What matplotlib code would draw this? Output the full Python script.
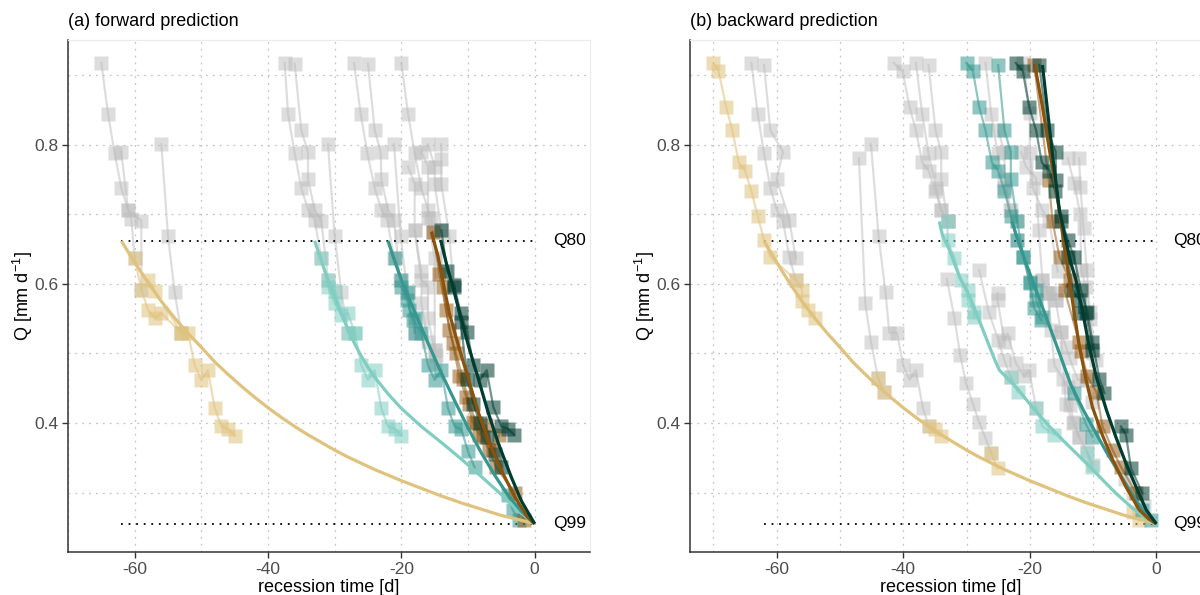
import matplotlib
matplotlib.use("Agg")
import matplotlib.pyplot as plt

plt.rcParams['font.family'] = ['Liberation Sans', 'DejaVu Sans']
plt.rcParams['axes.unicode_minus'] = False
plt.rcParams['mathtext.fontset'] = 'custom'
plt.rcParams['mathtext.rm'] = 'Liberation Sans'
plt.rcParams['mathtext.default'] = 'regular'

# ---------------- thresholds ----------------
Q80 = 0.662
Q99 = 0.255
THRESH_START = -62

# ---------------- fitted curves ----------------
TAN_FIT_X = [-62, -60, -58, -56, -54, -52, -50, -48, -46, -44, -42, -40, -38, -36, -34, -32, -30, -28, -26, -24, -22, -20, -17, -14, -11, -8, -5, -2, 0]
TAN_FIT_Y = [0.662, 0.631, 0.602, 0.575, 0.551, 0.529, 0.509, 0.488, 0.470, 0.453, 0.437, 0.422, 0.408, 0.395, 0.383, 0.372, 0.361, 0.351, 0.342, 0.333, 0.325, 0.317, 0.306, 0.295, 0.285, 0.276, 0.267, 0.260, 0.255]

A_LT_FIT_X = [-33, -32, -31, -30, -29, -28, -27, -26, -25, -24, -22, -20, -17, -14, -11, -8, -5, -2.5, 0]
A_LT_FIT_Y = [0.662, 0.633, 0.606, 0.581, 0.557, 0.535, 0.514, 0.496, 0.480, 0.466, 0.442, 0.421, 0.395, 0.372, 0.348, 0.323, 0.297, 0.274, 0.255]
A_TEAL_FIT_X = [-22, -21, -20, -19, -18, -16, -14, -12, -10, -8, -6, -4, -2, 0]
A_TEAL_FIT_Y = [0.662, 0.633, 0.606, 0.582, 0.560, 0.515, 0.472, 0.432, 0.393, 0.357, 0.325, 0.296, 0.273, 0.255]
A_BROWN_FIT_X = [-15.5, -14.5, -13.8, -12.8, -11.4, -9.9, -8.4, -7, -5, -3, -1.1, 0]
A_BROWN_FIT_Y = [0.675, 0.640, 0.606, 0.558, 0.510, 0.462, 0.414, 0.376, 0.332, 0.294, 0.265, 0.255]
A_DARK_FIT_X = [-14.1, -13.2, -12.3, -11.3, -9.9, -8.4, -7, -5.5, -3.5, -2, 0]
A_DARK_FIT_Y = [0.663, 0.628, 0.597, 0.560, 0.510, 0.462, 0.416, 0.372, 0.322, 0.288, 0.255]

B_LT_FIT_X = [-34.3, -33.8, -32.7, -31.1, -29.5, -27.4, -25.5, -24.8, -22.2, -19.6, -16.9, -14.3, -11.6, -9, -6.4, -3.7, -1.5, 0]
B_LT_FIT_Y = [0.690, 0.670, 0.649, 0.610, 0.582, 0.534, 0.490, 0.476, 0.452, 0.423, 0.395, 0.371, 0.347, 0.323, 0.299, 0.277, 0.262, 0.255]
B_TEAL_FIT_X = [-22.8, -22.2, -20.6, -19, -17.4, -15.3, -13.5, -11.5, -10, -8, -6, -4, -2, 0]
B_TEAL_FIT_Y = [0.690, 0.672, 0.630, 0.591, 0.552, 0.500, 0.455, 0.418, 0.393, 0.360, 0.330, 0.300, 0.272, 0.255]
B_BROWN_FIT_X = [-19.2, -18, -16.9, -15.8, -15.1, -14.4, -13.7, -13, -12.2, -11.1, -10.1, -8.5, -6.9, -4.8, -2.7, -1.2, 0]
B_BROWN_FIT_Y = [0.915, 0.855, 0.793, 0.735, 0.690, 0.645, 0.603, 0.560, 0.512, 0.462, 0.423, 0.382, 0.347, 0.308, 0.275, 0.262, 0.255]
B_DARK_FIT_X = [-18, -17.2, -16.2, -15.3, -14.3, -13.5, -12.7, -11.6, -10.6, -9.5, -7.9, -6.4, -4.8, -3.2, -1.6, 0]
B_DARK_FIT_Y = [0.915, 0.850, 0.770, 0.705, 0.663, 0.630, 0.606, 0.558, 0.510, 0.467, 0.419, 0.380, 0.342, 0.308, 0.275, 0.255]

# ---------------- observed recessions, panel (a) ----------------
A_GRAY_X = [
    [-65, -64, -63, -62, -61, -60.5, -60],
    [-62, -61, -59, -59],
    [-56, -55, -54, -53],
    [-37.5, -37, -36, -35, -34, -33, -32],
    [-36, -35, -34, -34, -33, -32, -31],
    [-31, -30, -29, -28],
    [-27.1, -26.1, -25.1, -24, -23, -22.1, -21.1],
    [-25, -24, -23.1, -23, -22, -21.1, -20.2],
    [-21.1, -20.1, -19.1, -18],
    [-20, -19, -18, -17, -16, -15.5, -15.3],
    [-19, -18, -18, -17, -17, -16, -15],
    [-17, -16, -16, -15, -15, -14.8],
    [-16, -15, -15, -14, -14],
    [-14, -14, -14, -12.8, -12.2],
    [-18, -17, -16, -16, -15],
]
A_GRAY_Y = [
    [0.918, 0.845, 0.788, 0.738, 0.707, 0.693, 0.637],
    [0.790, 0.707, 0.691, 0.592],
    [0.801, 0.669, 0.588, 0.530],
    [0.918, 0.845, 0.788, 0.738, 0.707, 0.692, 0.637],
    [0.917, 0.821, 0.790, 0.751, 0.707, 0.691, 0.606],
    [0.801, 0.669, 0.588, 0.530],
    [0.918, 0.845, 0.788, 0.738, 0.707, 0.692, 0.637],
    [0.917, 0.821, 0.790, 0.751, 0.707, 0.692, 0.606],
    [0.801, 0.669, 0.587, 0.530],
    [0.918, 0.845, 0.788, 0.738, 0.707, 0.695, 0.675],
    [0.769, 0.744, 0.677, 0.618, 0.572, 0.517, 0.486],
    [0.790, 0.769, 0.695, 0.637, 0.505, 0.498],
    [0.801, 0.769, 0.744, 0.677, 0.618],
    [0.801, 0.780, 0.744, 0.669, 0.600],
    [0.677, 0.606, 0.596, 0.551, 0.505],
]
A_TAN_X = [[-60, -59, -58, -57, -56, -53],
           [-58, -57, -53, -52, -51, -50, -49, -48, -47, -46, -45]]
A_TAN_Y = [[0.637, 0.592, 0.563, 0.551, 0.558, 0.530],
           [0.606, 0.590, 0.530, 0.530, 0.483, 0.462, 0.476, 0.422, 0.395, 0.392, 0.382]]
A_LT_X = [[-32, -31, -30, -29, -28, -27],
          [-31, -30, -28, -27, -26, -25, -24, -23, -22, -21, -20]]
A_LT_Y = [[0.637, 0.596, 0.572, 0.555, 0.558, 0.530],
          [0.606, 0.590, 0.530, 0.530, 0.483, 0.462, 0.476, 0.421, 0.395, 0.392, 0.382]]
A_TEAL_X = [[-21, -20, -19, -18.8, -18, -18],
            [-20, -19.2, -18.2, -17, -16, -15, -14, -13, -12, -11, -10, -9],
            [-4, -3.3, -2.3]]
A_TEAL_Y = [[0.637, 0.606, 0.589, 0.563, 0.551, 0.530],
            [0.596, 0.577, 0.548, 0.530, 0.483, 0.462, 0.476, 0.421, 0.395, 0.391, 0.359, 0.336],
            [0.296, 0.275, 0.260]]
A_BROWN_X = [[-15.3, -14.3, -13.3, -12.3, -11.3, -10.3, -9.3, -8.3, -7.3, -6.3, -5.3],
             [-13.8, -12.8, -11.8, -10.8, -9.8, -8.8, -7.8, -6.8, -5.8, -3, -1.6]]
A_BROWN_Y = [[0.675, 0.615, 0.563, 0.515, 0.467, 0.438, 0.402, 0.383, 0.397, 0.361, 0.383],
             [0.596, 0.534, 0.500, 0.464, 0.428, 0.400, 0.380, 0.361, 0.337, 0.299, 0.260]]
A_DARK_X = [[-14, -13.1, -12.1, -11.1, -10.1, -9.2, -8.2, -7.2, -6.2, -5, -4, -3.1],
            [-12.1, -11.1, -10.1, -9.2, -8.2, -7.2, -6, -5]]
A_DARK_Y = [[0.677, 0.618, 0.599, 0.558, 0.531, 0.483, 0.462, 0.476, 0.423, 0.395, 0.392, 0.383],
            [0.596, 0.545, 0.464, 0.428, 0.400, 0.380, 0.356, 0.337]]

# ---------------- observed recessions, panel (b) ----------------
B_GRAY_X = [
    [-64, -63, -62, -61, -60, -59, -58, -57],
    [-62, -61, -59, -60, -58, -57],
    [-47, -46, -45.1, -44, -43],
    [-45.1, -43.9, -42.8, -42.2, -41, -40, -39, -38, -36.9, -36],
    [-41.5, -40.1, -39, -38, -37, -36, -34.9, -34, -33],
    [-38, -37, -36, -34.8, -34, -33],
    [-36, -34.9, -34, -34, -33],
    [-33.1, -31.9, -31, -30.1, -29, -28, -27, -26.1],
    [-27, -26.1, -25.1, -24, -23.1, -22],
    [-25, -24, -24, -23, -22],
    [-21, -20, -20, -19.5, -18, -16.9, -15.6],
    [-21.4, -20.6, -19, -18.6, -18, -17.2, -15.9],
    [-14, -13, -12, -11.9, -11.1, -10.5, -10],
    [-12.2, -12, -11.5, -11, -10.5, -9.5],
    [-25.1, -25.1, -24, -23.5, -22.2, -20.9, -20.1, -19],
    [-28, -26.5, -25, -24, -23],
    [-18, -17, -16.7, -15.1, -14.3, -13.7, -12.4, -11.1, -10.1],
    [-17.2, -16.1, -14.8, -14, -13.7, -13, -12.2],
    [-15.9, -15.9, -15.1, -14.3, -13.2, -12.2, -11, -10],
    [-5, -3.7, -2],
]
B_GRAY_Y = [
    [0.918, 0.845, 0.788, 0.738, 0.707, 0.690, 0.639, 0.606],
    [0.915, 0.821, 0.790, 0.751, 0.692, 0.637],
    [0.781, 0.572, 0.517, 0.465, 0.444],
    [0.801, 0.669, 0.588, 0.530, 0.530, 0.483, 0.462, 0.476, 0.422, 0.395],
    [0.918, 0.906, 0.855, 0.821, 0.775, 0.763, 0.734, 0.706, 0.690],
    [0.918, 0.845, 0.788, 0.738, 0.706, 0.690],
    [0.915, 0.821, 0.790, 0.751, 0.690],
    [0.607, 0.551, 0.498, 0.458, 0.428, 0.401, 0.378, 0.357],
    [0.918, 0.845, 0.788, 0.738, 0.706, 0.690],
    [0.821, 0.790, 0.750, 0.706, 0.663],
    [0.918, 0.846, 0.788, 0.738, 0.706, 0.690, 0.618],
    [0.790, 0.769, 0.752, 0.678, 0.606, 0.587, 0.577],
    [0.781, 0.745, 0.700, 0.620, 0.596, 0.550, 0.500],
    [0.781, 0.740, 0.680, 0.620, 0.560, 0.490],
    [0.587, 0.577, 0.517, 0.529, 0.486, 0.467, 0.476, 0.421],
    [0.620, 0.560, 0.520, 0.490, 0.466],
    [0.606, 0.587, 0.534, 0.531, 0.510, 0.493, 0.462, 0.462, 0.430],
    [0.587, 0.483, 0.464, 0.452, 0.426, 0.402, 0.380],
    [0.587, 0.577, 0.531, 0.428, 0.400, 0.380, 0.360, 0.340],
    [0.320, 0.299, 0.280],
]
B_TAN_X = [[-70, -69.2, -68, -67, -66, -65, -64, -63, -62, -61, -57, -56, -56, -55, -54],
           [-44, -43], [-36, -35, -34], [-26.1, -25.1], [-3.7, -2.7]]
B_TAN_Y = [[0.918, 0.907, 0.855, 0.821, 0.775, 0.763, 0.734, 0.698, 0.663, 0.639, 0.606, 0.592, 0.576, 0.563, 0.551],
           [0.465, 0.444], [0.395, 0.391, 0.382], [0.357, 0.335], [0.272, 0.260]]
B_LT_X = [[-33, -33, -31.9, -30.9, -29.8, -29.8, -28.8, -28.8],
          [-23, -21.9], [-19, -18, -16.1], [-10.9, -10.1]]
B_LT_Y = [[0.690, 0.663, 0.637, 0.606, 0.591, 0.577, 0.560, 0.552],
          [0.466, 0.444], [0.421, 0.395, 0.383], [0.357, 0.336]]
B_TEAL_X = [[-30, -29, -28, -27, -26, -25, -24, -23, -22, -21, -20, -19, -19, -18],
            [-25, -24, -23, -23, -22, -21, -20, -19.3, -18.2],
            [-13, -11.1, -10.1],
            [-2.2, -0.9]]
B_TEAL_Y = [[0.918, 0.907, 0.855, 0.821, 0.775, 0.763, 0.734, 0.698, 0.663, 0.639, 0.603, 0.591, 0.577, 0.553],
            [0.915, 0.821, 0.790, 0.751, 0.690, 0.639, 0.601, 0.565, 0.548],
            [0.443, 0.398, 0.380],
            [0.275, 0.260]]
B_BROWN_X = [[-19.3, -17, -16.4, -15.3, -13.7, -14.5, -12.2, -11.9, -10.9, -9.5, -8.5, -6.9, -5.6, -3.2]]
B_BROWN_Y = [[0.915, 0.750, 0.690, 0.639, 0.606, 0.591, 0.517, 0.503, 0.467, 0.445, 0.395, 0.361, 0.337, 0.299]]
B_DARK_X = [[-22.2, -21.1, -20.1, -19, -18.1, -16.9, -16, -15.1, -14, -13, -11.9, -10.9, -10.1, -9, -8.2],
            [-18.5, -17.2, -15.9, -15.9, -15.1, -14, -13.2, -12.2, -12.2, -11.1, -10.1],
            [-5.6, -4.8, -4, -2.2]]
B_DARK_Y = [[0.918, 0.906, 0.855, 0.821, 0.775, 0.763, 0.734, 0.698, 0.663, 0.639, 0.591, 0.560, 0.517, 0.464, 0.443],
            [0.915, 0.821, 0.790, 0.750, 0.690, 0.639, 0.591, 0.577, 0.558, 0.558, 0.505],
            [0.395, 0.383, 0.335, 0.299]]

# ---------------- labels ----------------
TITLES = ["(a) forward prediction", "(b) backward prediction"]
XLABEL = "recession time [d]"
YLABEL = "Q [mm d$^{-1}$]"
XTICKS = [-60, -40, -20, 0]
YTICKS = [0.4, 0.6, 0.8]
XMINOR = [-70, -50, -30, -10]
YMINOR = [0.3, 0.5, 0.7, 0.9]

C_GRAY = '#BDBDBD'
C_TAN = '#DFC27D'
C_LT = '#80CDC1'
C_TEAL = '#35978F'
C_BROWN = '#8C510A'
C_DARK = '#003C30'

W, H = 1200, 595
fig = plt.figure(figsize=(W / 100, H / 100), dpi=100)
ax_a = fig.add_axes([68 / W, 1 - 552 / H, 522 / W, 512 / H])
ax_b = fig.add_axes([690 / W, 1 - 552 / H, 522 / W, 512 / H])


def draw_obs(ax, xs_list, ys_list, color, alpha, z):
    for xs, ys in zip(xs_list, ys_list):
        ax.plot(xs, ys, color=color, alpha=alpha, lw=1.6, zorder=z)
        ax.plot(xs, ys, ls='none', marker='s', ms=9.5, mfc=color, mec='none',
                alpha=alpha, zorder=z)


def style(ax, xlim, title, left_px):
    ax.set_xlim(*xlim)
    ax.set_ylim(0.2144, 0.951)
    ax.set_xticks(XTICKS)
    ax.set_xticks(XMINOR, minor=True)
    ax.set_yticks(YTICKS)
    ax.set_yticks(YMINOR, minor=True)
    ax.set_xticklabels([str(v) for v in XTICKS])
    ax.set_yticklabels([f"{v:.1f}" for v in YTICKS])
    ax.grid(True, which='both', color='#C4C4C4', lw=0.9, ls=(0, (1.5, 4)), zorder=0)
    ax.set_axisbelow(True)
    ax.tick_params(which='major', length=4, width=1, color='#333333',
                   labelsize=12.5, labelcolor='#4D4D4D', pad=3)
    ax.tick_params(which='minor', length=0)
    for s in ['left', 'bottom']:
        ax.spines[s].set_color('#333333')
        ax.spines[s].set_linewidth(1.1)
    for s in ['top', 'right']:
        ax.spines[s].set_color('#EBEBEB')
        ax.spines[s].set_linewidth(0.8)
    ax.set_xlabel(XLABEL, fontsize=13, labelpad=2)
    fig.text((left_px - 45) / W, 1 - 296 / H, YLABEL, fontsize=13, rotation=90,
             ha='center', va='center')
    fig.text(left_px / W, 1 - 22 / H, title, fontsize=13, ha='left', va='center')


def thresholds(ax):
    for q, lab in [(Q80, 'Q80'), (Q99, 'Q99')]:
        ax.plot([THRESH_START, 0], [q, q], color='black', lw=1.3, ls=(0, (1, 3.2)), zorder=3)
        ax.text(2.7, q, lab, fontsize=12.5, ha='left', va='center', zorder=6)


# panel (a)
draw_obs(ax_a, A_GRAY_X, A_GRAY_Y, C_GRAY, 0.5, 2)
thresholds(ax_a)
draw_obs(ax_a, A_TAN_X, A_TAN_Y, C_TAN, 0.55, 4)
draw_obs(ax_a, A_LT_X, A_LT_Y, C_LT, 0.55, 4)
draw_obs(ax_a, A_TEAL_X, A_TEAL_Y, C_TEAL, 0.55, 4)
draw_obs(ax_a, A_BROWN_X, A_BROWN_Y, C_BROWN, 0.5, 4)
draw_obs(ax_a, A_DARK_X, A_DARK_Y, C_DARK, 0.55, 4)
for fx, fy, c in [(TAN_FIT_X, TAN_FIT_Y, C_TAN), (A_LT_FIT_X, A_LT_FIT_Y, C_LT),
                  (A_TEAL_FIT_X, A_TEAL_FIT_Y, C_TEAL), (A_BROWN_FIT_X, A_BROWN_FIT_Y, C_BROWN),
                  (A_DARK_FIT_X, A_DARK_FIT_Y, C_DARK)]:
    ax_a.plot(fx, fy, color=c, lw=2.3, zorder=5, solid_capstyle='butt', solid_joinstyle='round')
style(ax_a, (-68.5, 8.3), TITLES[0], 68)

# panel (b)
draw_obs(ax_b, B_GRAY_X, B_GRAY_Y, C_GRAY, 0.5, 2)
thresholds(ax_b)
draw_obs(ax_b, B_TAN_X, B_TAN_Y, C_TAN, 0.55, 4)
draw_obs(ax_b, B_LT_X, B_LT_Y, C_LT, 0.55, 4)
draw_obs(ax_b, B_TEAL_X, B_TEAL_Y, C_TEAL, 0.55, 4)
draw_obs(ax_b, B_BROWN_X, B_BROWN_Y, C_BROWN, 0.5, 4)
draw_obs(ax_b, B_DARK_X, B_DARK_Y, C_DARK, 0.55, 4)
for fx, fy, c in [(TAN_FIT_X, TAN_FIT_Y, C_TAN), (B_LT_FIT_X, B_LT_FIT_Y, C_LT),
                  (B_TEAL_FIT_X, B_TEAL_FIT_Y, C_TEAL), (B_BROWN_FIT_X, B_BROWN_FIT_Y, C_BROWN),
                  (B_DARK_FIT_X, B_DARK_FIT_Y, C_DARK)]:
    ax_b.plot(fx, fy, color=c, lw=2.3, zorder=5, solid_capstyle='butt', solid_joinstyle='round')
style(ax_b, (-73.7, 8.8), TITLES[1], 690)

fig.savefig('out.png', dpi=100)
